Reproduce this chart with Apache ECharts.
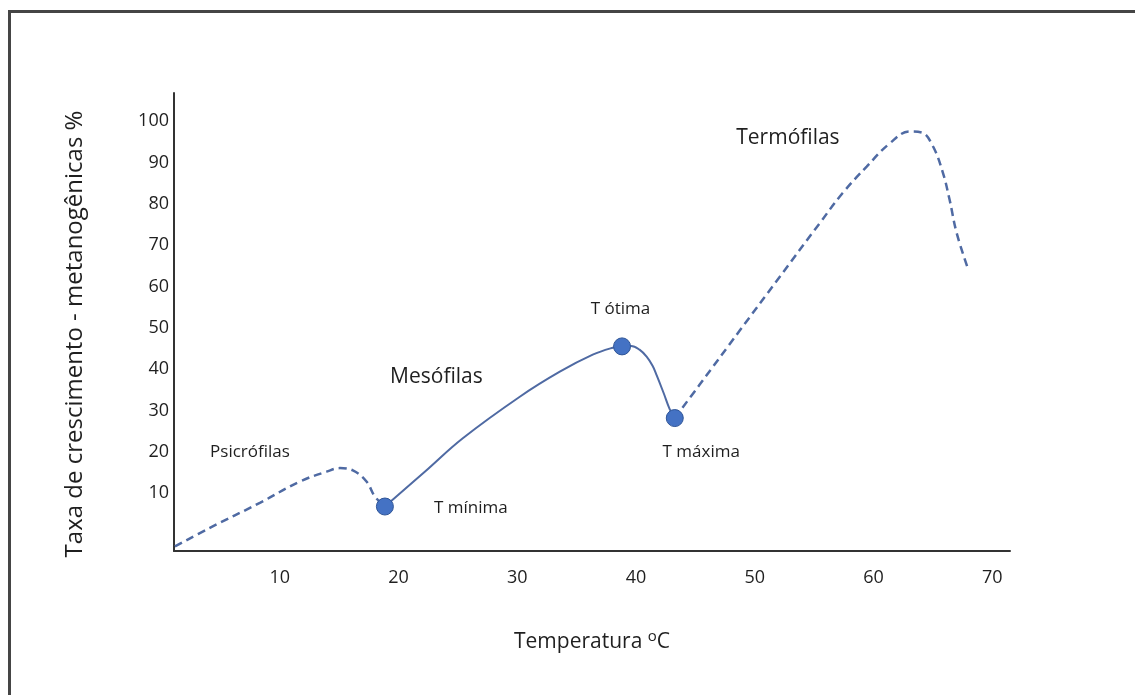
<!DOCTYPE html>
<html>
<head>
<meta charset="utf-8">
<script src="https://cdn.jsdelivr.net/npm/echarts@6/dist/echarts.min.js"></script>
<style>
html,body{margin:0;padding:0;background:#fff;}
#chart{width:1135px;height:695px;}
</style>
</head>
<body>
<div id="chart"></div>
<script>
// ---- data (temperature °C, growth rate %) ----
const psicrofilasCurve = [
  [1.18, -2.9], [4.12, 1.6], [8.33, 7.65], [11.7, 12.8], [13.95, 15.2],
  [15.07, 16.05], [16.16, 15.5], [17.31, 12.8], [18.01, 9.2], [18.86, 6.76]
];
const mesofilasCurve = [
  [18.86, 6.76], [22.22, 15.16], [25.42, 23.27], [30.22, 33.32], [33.59, 39.37],
  [36.36, 43.49], [38.05, 45.18], [38.8, 45.55], [39.6, 45.6], [40.3, 44.7],
  [40.9, 43.0], [41.4, 40.8], [41.75, 38.5], [42.34, 34.16], [42.85, 30.28], [43.27, 28.16]
];
const termofilasCurve = [
  [43.27, 28.16], [45.37, 36.27], [48.74, 49.32], [52.1, 62.3], [55.47, 75.28],
  [57.41, 82.6], [59.43, 89.0], [61.36, 94.58], [63.05, 97.48], [64.06, 97.24],
  [64.98, 94.09], [65.82, 87.8], [66.41, 81.02], [67.0, 73.03], [67.93, 64.55]
];
const keyPoints = [[18.86, 6.76], [38.83, 45.5], [43.27, 28.16]];
const smallLabels = ['Psicrófilas', 'T mínima', 'T ótima', 'T máxima'];
const smallLabelX = [7.5, 26.1, 38.7, 45.5];
const smallLabelY = [20, 6.4, 54.6, 19.8];
const bigLabels = ['Mesófilas', 'Termófilas'];
const bigLabelX = [23.2, 52.8];
const bigLabelY = [38.2, 96];
const xTitle = 'Temperatura';
const xUnitSup = 'o';
const xUnit = 'C';
const yTitle = 'Taxa de crescimento - metanogênicas %';

const FONT = '"Open Sans", "Noto Sans", sans-serif';
const TXT = '#1f1f1f';
const LINE = '#4f6aa3';

const chart = echarts.init(document.getElementById('chart'));
chart.setOption({
  animation: false,
  backgroundColor: '#ffffff',
  textStyle: { fontFamily: FONT },
  graphic: [{
    type: 'rect', z: -10, silent: true,
    shape: { x: 9.5, y: 11.5, width: 1150, height: 720 },
    style: { fill: 'none', stroke: '#454545', lineWidth: 3 }
  }, {
    type: 'text', silent: true, x: 75, y: 334, rotation: Math.PI / 2,
    style: { text: yTitle, fill: TXT, font: '24px ' + FONT, align: 'center', verticalAlign: 'middle' }
  }],
  grid: { left: 174, right: 125, top: 93, bottom: 144, containLabel: false, outerBoundsMode: 'none' },
  xAxis: {
    type: 'value', min: 1.1, max: 71.5, splitNumber: 7,
    name: '{m|' + xTitle + ' }{sup|' + xUnitSup + '}{m|' + xUnit + '}',
    nameLocation: 'middle', nameGap: 78,
    nameTextStyle: {
      fontFamily: FONT, fontSize: 21, color: TXT,
      rich: {
        m: { fontFamily: FONT, fontSize: 21, color: TXT, lineHeight: 26 },
        sup: { fontFamily: FONT, fontSize: 15, color: TXT, lineHeight: 15, verticalAlign: 'top' }
      }
    },
    axisLine: { show: true, onZero: false, lineStyle: { color: '#333', width: 2 } },
    axisTick: { show: false },
    splitLine: { show: false },
    axisLabel: {
      margin: 18, fontSize: 18, color: TXT, fontFamily: FONT,
      showMinLabel: false, showMaxLabel: false,
      formatter: v => (Math.abs(v % 10) < 1e-6 && v > 0 && v <= 70) ? String(Math.round(v)) : ''
    }
  },
  yAxis: {
    type: 'value', min: -4, max: 106.8, splitNumber: 10,
    axisLine: { show: true, onZero: false, lineStyle: { color: '#333', width: 2 } },
    axisTick: { show: false },
    splitLine: { show: false },
    axisLabel: {
      margin: 5, fontSize: 18, color: TXT, fontFamily: FONT,
      showMinLabel: false, showMaxLabel: false,
      formatter: v => (Math.abs(v % 10) < 1e-6 && v > 0 && v <= 100) ? String(Math.round(v)) : ''
    }
  },
  series: [
    {
      type: 'line', data: psicrofilasCurve, smooth: 0.4, showSymbol: false,
      lineStyle: { color: LINE, width: 2.5, type: [8, 5] }
    },
    {
      type: 'line', data: mesofilasCurve, smooth: 0.4, showSymbol: false,
      lineStyle: { color: LINE, width: 2, type: 'solid' }
    },
    {
      type: 'line', data: termofilasCurve, smooth: 0.4, showSymbol: false,
      lineStyle: { color: LINE, width: 2.5, type: [8, 5] }
    },
    {
      type: 'scatter', data: keyPoints, symbolSize: 17, z: 5,
      itemStyle: { color: '#4472c4', borderColor: '#2f5597', borderWidth: 1, opacity: 1 }
    },
    {
      type: 'scatter', symbolSize: 0, silent: true,
      itemStyle: { opacity: 1 },
      data: smallLabels.map((t, i) => ({ value: [smallLabelX[i], smallLabelY[i]], name: t })),
      label: { show: true, position: 'inside', formatter: p => p.name, fontSize: 17, color: TXT, fontFamily: FONT, opacity: 1 }
    },
    {
      type: 'scatter', symbolSize: 0, silent: true,
      itemStyle: { opacity: 1 },
      data: bigLabels.map((t, i) => ({ value: [bigLabelX[i], bigLabelY[i]], name: t })),
      label: { show: true, position: 'inside', formatter: p => p.name, fontSize: 21, color: TXT, fontFamily: FONT, opacity: 1 }
    }
  ]
});
</script>
</body>
</html>
